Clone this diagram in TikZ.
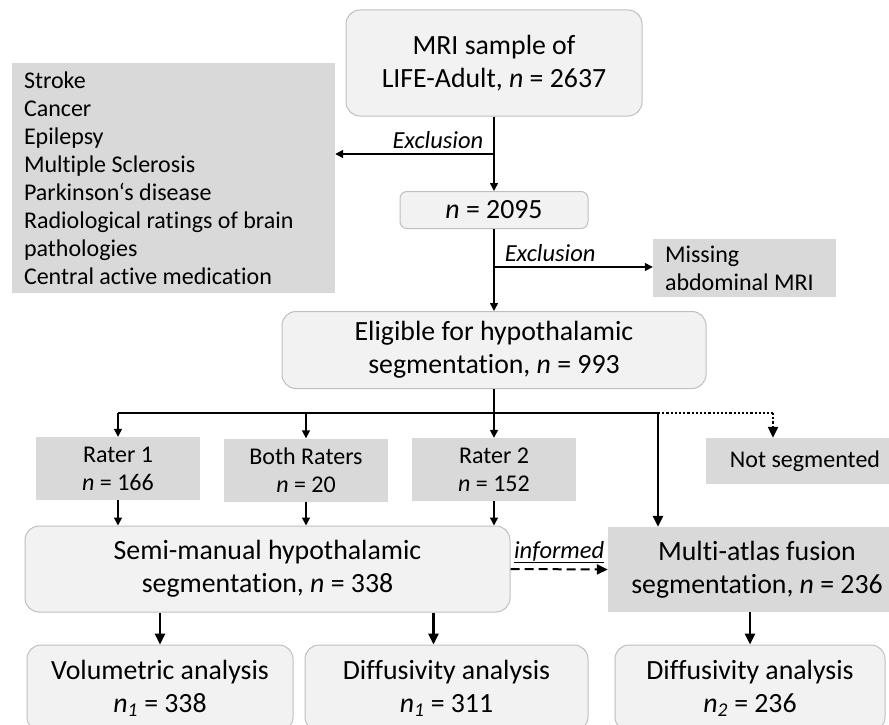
\documentclass[tikz,border=0pt]{standalone}
\usepackage{fontspec}
\setmainfont{Carlito}[Ligatures=NoCommon]
\usetikzlibrary{arrows.meta}

\definecolor{boxlight}{HTML}{F2F2F2}
\definecolor{boxedge}{HTML}{BFBFBF}
\definecolor{boxdark}{HTML}{D9D9D9}

\begin{document}
\begin{tikzpicture}[x=1pt, y=-1pt,
  roundbox/.style={rectangle, rounded corners=14pt, draw=boxedge, line width=1pt, fill=boxlight, align=center, inner sep=0pt},
  greybox/.style={rectangle, fill=boxdark, align=center, inner sep=0pt},
  thinarrow/.style={line width=1.5pt, -{Triangle[length=8pt,width=8pt]}},
  thickarrow/.style={line width=2.6pt, -{Triangle[length=11pt,width=10pt]}},
  big/.style={font=\fontsize{27.8}{33}\selectfont},
  small/.style={font=\fontsize{24}{28}\selectfont},
  lbl/.style={font=\fontsize{24.5}{28}\selectfont\itshape, inner xsep=10pt, inner ysep=5pt}]
        \useasboundingbox (0,0) rectangle (889,725);

        % Sample and exclusions
        \node[roundbox, big, minimum width=296pt, minimum height=106pt] (mri) at (494,63)
            {MRI sample of\\LIFE-Adult, \textit{n} = 2637};
        \node[greybox, small, align=flush left, text width=299pt, inner xsep=12pt, minimum height=230pt] (excl) at (173.5,178)
            {Stroke\\Cancer\\Epilepsy\\Multiple Sclerosis\\Parkinson‘s disease\\Radiological ratings of brain\\pathologies\\Central active medication};
        \node[roundbox, big, rounded corners=7pt, minimum width=188pt, minimum height=37pt] (n2095) at (494,210)
            {\textit{n} = 2095};
        \node[greybox, small, align=flush left, text width=159pt, inner xsep=12pt, minimum height=58pt] (missing) at (744.5,268)
            {Missing\\abdominal MRI};
        \node[roundbox, big, minimum width=424pt, minimum height=77pt] (elig) at (494,350)
            {Eligible for hypothalamic\\segmentation, \textit{n} = 993};

        % Raters
        \node[greybox, small, minimum width=164pt, minimum height=63pt] (r1) at (118,468.5) {Rater 1\\\textit{n} = 166};
        \node[greybox, small, minimum width=164pt, minimum height=63pt] (both) at (306,470) {Both Raters\\\textit{n} = 20};
        \node[greybox, small, minimum width=164pt, minimum height=63pt] (r2) at (494,469.5) {Rater 2\\\textit{n} = 152};
        \node[greybox, small, minimum width=198pt, minimum height=46pt] (notseg) at (805,461) {Not segmented};

        % Segmentations
        \node[roundbox, big, minimum width=485pt, minimum height=86pt] (semi) at (267.5,569)
            {Semi-manual hypothalamic\\segmentation, \textit{n} = 338};
        \node[greybox, big, minimum width=298pt, minimum height=85pt] (multi) at (757,569.5)
            {Multi-atlas fusion\\segmentation, \textit{n} = 236};

        % Analyses
        \node[roundbox, big, minimum width=266pt, minimum height=86pt] (vol) at (160,688)
            {Volumetric analysis\\\textit{n}\textsubscript{\textit{1}} = 338};
        \node[roundbox, big, minimum width=283pt, minimum height=86pt] (diff1) at (446.5,688)
            {Diffusivity analysis\\\textit{n}\textsubscript{\textit{1}} = 311};
        \node[roundbox, big, minimum width=270pt, minimum height=86pt] (diff2) at (750,688)
            {Diffusivity analysis\\\textit{n}\textsubscript{\textit{2}} = 236};

        % Exclusion branches
        \coordinate (cut1) at (494,154);
        \coordinate (cut2) at (494,267);
        \draw[thinarrow] (mri.south) -- (n2095.north);
        \draw[thinarrow] (cut1) -- (excl.east |- cut1) node[lbl, pos=0, anchor=south east] {Exclusion};
        \draw[thinarrow] (n2095.south) -- (elig.north);
        \draw[thinarrow] (cut2) -- (missing.west |- cut2) node[lbl, pos=0, anchor=south west] {Exclusion};

        % Split to raters
        \coordinate (split) at (494,413);
        \coordinate (atlasin) at (658,413);
        \coordinate (skip) at (773,413);
        \draw[line width=2.6pt] (elig.south) -- (split);
        \draw[line width=1.5pt] (r1.north |- split) -- (split);
        \foreach \r in {r1,both,r2} {
            \draw[thinarrow] (\r.north |- split) -- (\r.north);
            \draw[thinarrow] (\r.south) -- (\r.south |- semi.north);
        }
        \draw[line width=2.6pt] (split) -- (atlasin);
        \draw[thickarrow] (atlasin) -- (atlasin |- multi.north);
        \draw[line width=2.2pt, dotted] (atlasin) -- (skip);
        \draw[line width=2.2pt, dotted, -{Triangle[length=11pt,width=10pt]}] (skip) -- (skip |- notseg.north);

        % Informed
        \draw[line width=2pt, dash pattern=on 9pt off 5pt, -{Triangle[length=11pt,width=10pt]}] (semi.east) -- (multi.west)
            node[lbl, inner xsep=0pt, midway, above] {\underline{informed}};

        % To analyses
        \draw[thickarrow] (vol.north |- semi.south) -- (vol.north);
        \draw[thickarrow] ([xshift=-13pt]diff1.north |- semi.south) -- ([xshift=-13pt]diff1.north);
        \draw[thickarrow] (diff2.north |- multi.south) -- (diff2.north);
    \end{tikzpicture}
\end{document}
